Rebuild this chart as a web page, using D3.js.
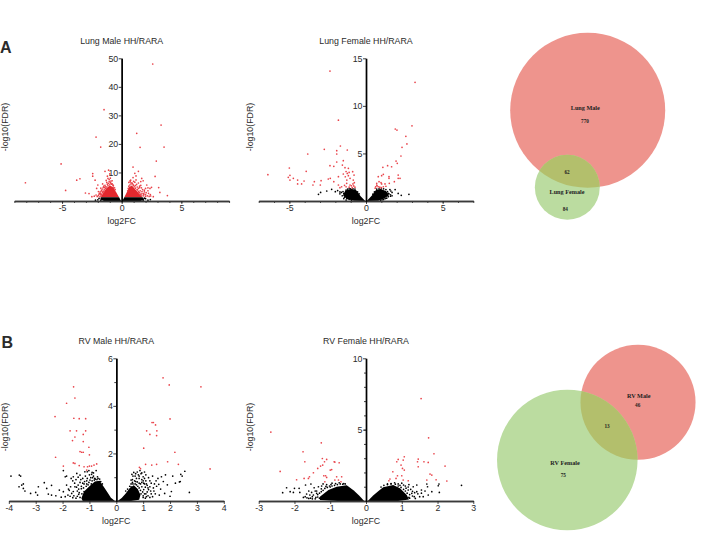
<!DOCTYPE html>
<html>
<head>
<meta charset="utf-8">
<script src="https://cdnjs.cloudflare.com/ajax/libs/d3/7.8.5/d3.min.js"></script>
<style>
  html, body { margin: 0; padding: 0; background: #fff; }
  svg { display: block; }
  text { font-family: "Liberation Sans", Arial, sans-serif; fill: #2b2b2b; }
  .venn text { font-family: "Liberation Serif", "Times New Roman", serif; font-weight: bold; fill: #222; }
</style>
</head>
<body>
<div id="chart"></div>
<script>
// [log2FC, -log10(FDR)]
var lungMalePoints = [[2.6,48],[3.3,26.6],[-1.48,32],[-2.15,22.4],[1.26,23.7],[-1.76,18.9],[1.54,18.8],[3.55,18.9],[-5.08,13],[2.9,14],[-8.07,6.4],[-4.7,3.7],[-3.77,7.3],[-3.5,7.8],[-2.43,9.6],[-2.43,8.7],[-3.04,2.8],[-2.74,2.6],[.95,11.9],[1.4,10.4],[2.8,8.6],[3.1,4.7],[3.2,3],[3.83,1.9],[2.43,1.75],[2.65,1.5],[-1.4,10.4],[-1.1,10.8],[-1,9.5],[-1.2,8.7],[1.1,9.7],[1.2,8.8],[.7,7.1],[1.68,7.9],[1.8,7.1],[2.1,5.6],[2.37,4.4],[2.5,4.8],[-2.23,7.3],[-2,5.6],[-2.1,4.4],[-1.95,3.3],[-1.8,2.7],
  [-.9,7],[-1.05,7.5],[-1.25,6.5],[-1.4,5.5],[-1.55,4.8],[-1.7,3.8],[-1.85,2.7],[-1.3,7.2],[-.8,6],[-.7,5.5],[-1.1,6.2],[-1.6,6],[-1.5,3.2],[-1.75,2.2],[-.95,8],[.6,6.5],[.75,7.3],[.9,6.1],[1,5.5],[1.1,6.6],[1.25,5.8],[1.4,6.3],[1.5,4.7],[1.6,5.5],[1.75,4],[1.9,3.2],[2,2.2],[1.7,2.6],[1.3,4],[1.45,3],[2.2,3.6],[2.4,2.2],[1.6,6.8],[1.2,7.4],[.95,8.2],
  [-2,.4],[-1.9,.9],[-2.2,.3],[2,.8],[2.2,.3],[1.9,1],[2.4,.5],[1.8,.3],[-1.75,.2],
  [-.6,4.6],[-.75,5.6],[-.85,5.9],[-1,5.7],[-1.15,5.4],[-1.25,4.9],[-1.35,4.4],[-1.45,3.9],[-1.55,3.5],[-1.6,2.9],[-1.68,2.4],[-1.72,1.8],[-1.82,1.5],[-1.95,1.9],[-2.05,1.6],[-.95,6.5],[-1.2,5.9],[-1.45,4.7],[-1.65,3.3],[-1.35,5],[-.7,4.9],[-.9,6.2],[-1.05,6.8],[-1.6,4.2],[-1.8,3.2],[-1.9,2.4],[-2.15,2.1],[-2.3,1.7],[-2.5,1.5],[-1.5,5.2],[-1.75,4.5],[-.55,4],[-1.15,7.9],[-.8,7.1],
  [.55,4.4],[.68,5.6],[.78,6],[.95,5.7],[1.05,5],[1.15,4.5],[1.3,3.9],[1.4,3.4],[1.5,2.9],[1.55,2.4],[1.65,2.1],[1.8,1.8],[1.85,2.6],[.85,6.4],[1.15,5.4],[1.3,4.9],[1.4,4.4],[1.55,3.6],[1.7,3.3],[1.85,2.2],[2,1.6],[2.15,1.8],[2.25,2.7],[2.3,1.6],[.72,6.7],[1,6.9],[1.5,5.2],[1.65,4.6],[1.9,3.8],[2,4.4],[2.2,4.6],[2.05,2.9],[.5,3.6],[.6,5.2]];
var lungMaleCores = [
  [[-.22,1.3],[-.45,3],[-.7,4.8],[-1,5.4],[-1.3,4.4],[-1.55,2.8],[-1.75,1.3]],
  [[.22,1.3],[.42,3],[.6,4.8],[.85,5.4],[1.15,4],[1.45,2.6],[1.75,1.3]],
  [[-.05,0],[-.22,1.3],[-1.75,1.3],[-1.8,.5],[-1.5,0]],
  [[.05,0],[.22,1.3],[1.75,1.3],[1.9,.5],[1.6,0]]];

var lungFemalePoints = [[-2.35,13.66],[3.2,12.47],[-1.8,8.5],[3,7.9],[1.91,7.57],[2.02,7.46],[2.6,6.8],[2.67,6],[2.35,5.64],[-1.67,5.78],[-2.72,5.43],[-1.91,5.29],[-1.22,5.36],[-1.91,4.94],[-3.8,4.94],[2.28,4.73],[-1.48,4.24],[1.96,4.2],[2.04,3.96],[-1.91,4.1],[-2.35,3.71],[-2.1,3.64],[-1.54,3.78],[1.41,3.71],[1.67,3.6],[1.1,3.54],[-5,3.47],[-3.9,3.12],[-1.37,3.5],[-1.15,3.43],[-6.4,2.77],[-4.96,2.7],[-5.07,2.49],[-4.74,2.38],[-4.96,2.2],[-4.46,2.2],[-4.46,1.79],[-4.2,1.79],[-4.04,2.1],[-3.37,2.03],[-3.46,1.68],[-2.93,2.14],[-2.98,1.68],[-2.46,2.31],[-2.33,2.38],[-2.1,2.03],[-1.8,2.56],[-1.48,2.84],[-1.22,2.9],[-1.15,2.66],[-.87,3.08],[-.78,2.73],[-.83,2.2],[-.76,1.93],[-1.04,2.38],[-1.8,1.68],[-1.59,1.5],[-1.26,1.86],[-1.04,1.68],[-.8,1.58],
  [1.13,2.8],[1.02,2.66],[.8,2.56],[1.5,2.56],[1.5,2.38],[2.1,2.73],[2.1,2.38],[2.22,2.38],[.7,1.86],[1.02,1.79],[1.24,1.79],[1.52,1.86],[.85,2.03],[.63,1.5],[.8,1.5],[1.13,1.5],[.98,1.93],[1.85,2.03],[.7,1.68],
  [-3.1,.7],[-2.96,.9],[-2.56,1.05],[-2.24,1.23],[-2,.98],[-1.85,1.1],[-1.7,.95],[2.8,.7],[2.1,.8],[1.9,1.2],[1.56,1.2],[2.3,.6],[1.7,.9],[1.6,.5],[1.45,.8],
  [-1.5,1],[-1.45,.8],[-1.6,.9],[-1.7,.75],[-1.55,.55],[-1.4,.4],[-1.3,1.15],[-1.2,1.25],[-1.1,1.28],[-1,1.28],[-.85,1.29],[-.72,1.25],[-.55,.95],[-.45,.75],[-1.25,.25],[-1.1,.18],[-1.3,.1],[-1.45,.25],[-.95,.05],
  [1.4,1],[1.5,.75],[1.6,.65],[1.45,.45],[1.35,.3],[1.25,.25],[1.15,.15],[1.3,1.2],[1.15,1.28],[1,1.29],[.85,1.28],[.7,1.25],[.55,.95],[.45,.72],[1.7,.55],[1.35,.85],[1.62,1.05],[.95,.08],[1.05,.12],
  [-1.3,1.5],[-1.1,1.45],[-.95,1.6],[-.85,1.8],[-1.4,1.65],[-1.7,1.4],[-.72,1.45],[-.9,1.4],[-1.25,2.2],[-1.35,2.55],[-1.1,3],[-1.3,3.1],[.9,1.45],[1,1.4],[.72,1.6],[1.3,1.55],[.6,1.35]];
var lungFemaleCores = [
  [[-.05,0],[-.35,.5],[-.65,1.15],[-.95,1.25],[-1.35,1.1],[-1.5,.6],[-1.25,.2],[-.8,.03]],
  [[.05,0],[.4,.6],[.65,1.15],[.95,1.25],[1.3,1.05],[1.5,.6],[1.2,.25],[.8,.03]]];

var rvMalePoints = [[1.74,5.18],[1.97,4.88],[3.15,4.8],[-1.59,4.8],[-1.54,4.33],[-1.85,4.11],[-2.28,3.55],[-1.58,3.48],[-1.38,3.46],[-1.14,3.46],[2,3.45],[1.33,3.3],[1.38,3.3],[1.46,3.2],[-1.72,2.95],[-1.48,2.95],[-1.14,2.95],[1.13,2.95],[1.51,2.95],[-1.23,2.8],[1.25,2.8],[1.5,2.75],[-1.54,2.69],[-1.63,2.54],[-1.23,2.5],[-1.02,2.26],[1.02,2.22],[-1.35,2.08],[-1.29,2.05],[-1.23,2.05],[-1,1.94],[2.18,2.05],[-2.26,1.84],[1.91,1.65],[-1.6,1.6],[-1.54,1.58],[-1.38,1.49],[-1.97,1.47],[-1.2,1.44],[-1.07,1.44],[-1,1.47],[-.92,1.47],[-.83,1.51],[-.73,1.56],[1.09,1.54],[1.32,1.51],[1.5,1.54],[2.31,1.54],[.86,1.42],[.9,1.36],[3.49,1.35],[-1.1,1.3],
  [-3.92,1.05],[-3.61,1.09],[-3.56,1.05],[-3.62,.6],[-3.52,.67],[-3.46,.72],[-3.46,.53],[-3.4,.42],[-3.19,.32],[-3,.36],[-2.93,.25],[-2.9,.6],[-2.68,.77],[-2.59,.53],[-2.41,.66],[-2.53,.29],[-2.41,.25],[-2.25,.22],[-2.12,.46],[-1.97,.39],[-1.85,.67],[-1.9,1.02],[-1.85,1.05],[-1.97,1.28],[-1.6,1.02],[-1.47,1.16],[-1.35,1.09],[-1.17,1.23],[-1.08,1.23],[-1.8,.25],[-1.66,.32],[-1.54,.6],[-1.42,.67],
  [-2.05,.16],[-1.9,.18],[-1.75,.45],[-1.62,.85],[-1.5,.9],[-1.45,.42],[-1.4,.28],[-1.35,.78],[-1.3,.52],[-1.25,.95],[-1.2,.72],[-1.15,1.05],[-1.1,.85],[-1.05,.68],[-1,1.1],[-.95,.98],[-.9,1.2],[-.85,1.05],[-.8,.95],[-.75,1.28],[-.7,1.02],[-1.2,.4],[-1.15,.22],[-1.5,.12],[-1.62,.14],
  [.55,.72],[.6,.9],[.65,1.2],[.7,1.05],[.72,.82],[.78,1.22],[.82,1.1],[.85,.95],[.88,1.28],[.92,1.15],[.95,.9],[1,1.02],[1.05,1.22],[1.02,.75],[1.1,.85],[1.08,.58],[1.15,.66],[1.2,.48],[1.2,.98],[1.28,.42],[1.3,.75],[1.35,1.05],[1.38,.55],[1.45,.3],[1.5,.62],[1.55,.95],[1.6,.25],[1.65,.5],[1.68,1.02],[1.75,.82],[1.8,.32],[1.83,1.1],[1.9,.68],[2,.2],[2.05,.4],[2.1,1.05],[2.2,.75],[2.35,.8],[2.38,.82],[2.4,1.12],[2.45,1.05],[2.55,1.25],[2.72,.36],[1.25,.15],[1.1,.3],[1,.15],
  [-1.4,.5],[-1.45,.2],[-1.38,.35],[-1.35,.15],[-1.3,.62],[-1.28,.3],[-1.25,.75],[-1.22,.55],[-1.18,.82],[-1.12,.62],[-1.1,.72],[-1.08,.95],[-1.02,.78],[-.98,.88],[-.93,.72],[-.9,.85],[-.88,.98],[-.82,.88],[-.78,.92],[-.72,.9],[-.68,.95],[-.62,.92],[-.58,.82],[-.52,.72],[-.92,1.12],[-.85,1.18],[-1.02,1.28],[-1.32,.9],[-1.42,1],[-1.55,.75],[-1.6,.4],[-1.7,.6],[-1.72,.2],[-1.48,.58],[-1.58,.22],[-1.78,.5],[-1.68,.95],
  [.35,.42],[.42,.5],[.5,.62],[.55,.6],[.62,.72],[.7,.72],[.75,.68],[.8,.62],[.85,.55],[.9,.45],[.92,.3],[.95,.6],[.98,.38],[1,.22],[1.02,.48],[1.05,.3],[1.08,.12],[1.12,.18],[1.15,.38],[1.18,.22],[.68,.85],[.75,.95],[.6,.78],[.78,.8],[.85,.75],[.9,.72],[.95,.78],[1,.85],[1.05,.95],[1.1,1.1],[1.12,.72],[1.25,.6],[1.3,.3],[1.35,.18],[1.4,.42],[1.42,.72],[1.48,.85],[1.58,.7],[.58,1.12],[.62,1.05],[.72,1.15],[.85,1.05],[.95,1.18],[.55,.88],[1.25,.85],[1.18,.55],[1.05,.72]];
var rvMaleCores = [
  [[-.05,0],[-.2,.14],[-.35,.4],[-.5,.65],[-.62,.85],[-.8,.82],[-1,.62],[-1.2,.4],[-1.3,.12],[-1.25,0]],
  [[.05,0],[.2,.13],[.35,.32],[.5,.55],[.65,.66],[.8,.5],[.9,.25],[.85,.05],[.55,0]]];

var rvFemalePoints = [[1.54,7.18],[-2.66,4.83],[1.75,4.43],[-1.25,4.08],[-1.76,3.45],[1.9,3.31],[1.07,3.1],[-1.22,2.98],[-1.1,2.91],[.9,2.91],[1.46,2.94],[-1.71,2.75],[-1.16,2.75],[-.89,2.75],[-.87,2.73],[-.75,2.68],[.86,2.75],[1.04,2.87],[1.44,2.75],[1.62,2.75],[1.74,2.7],[-1.27,2.45],[-1.21,2.52],[-1.35,2.28],[1.46,2.4],[2.21,2.45],[.98,2.52],[1.02,2.28],[1.07,2.17],[-2.4,2.07],[-1.47,1.98],[-1,2.17],[-.96,2.2],[1.79,1.89],[1.84,1.82],[-1.58,1.7],[-1.18,1.77],[-1.13,1.77],[-1.1,1.65],[-1.61,1.58],[-1.73,1.58],[-1.94,1.49],[-.82,1.7],[-.68,1.7],[-.87,1.47],[-.77,1.47],[-.7,1.35],[.88,1.77],[.84,1.58],[1,1.77],[1.04,1.47],[1.18,1.42],[.67,1.54],[.64,1.42],[.75,2.05],[1.96,1.49],[2.26,1.4],[1.7,1.47],[-1.15,1.35],
  [2.67,1.1],[2.04,1.19],[2.02,1.07],[1.7,1.19],[1.72,1],[2.05,.6],[1.84,.65],[1.74,.42],[1.55,.77],[1.42,1.12],[1.32,1],[1.28,.54],[1.18,.77],[1.45,.5],[1.35,.3],[1.2,1.15],[1.1,1.05],[1,1.25],[.9,1.2],[.7,1.22],[.6,1.2],[1.1,.4],[1.2,.25],
  [-2.33,.58],[-2.22,.93],[-2.12,.65],[-2,.89],[-2.03,.6],[-1.87,.89],[-1.85,.6],[-1.69,1.12],[-1.54,1.19],[-1.66,.49],[-1.57,.42],[-1.47,.42],[-1.38,.54],[-1.33,1],[-1.45,.93],[-1.24,1.05],[-1.6,.7],[-1.42,.7],[-1.5,.3],[-1.35,.28],[-1.3,.2],[-1.2,1.2],[-1.1,1.15],[-1.02,1.05],[-.95,1.25],[-.85,1.22],[-.75,1.28],[-.62,1.22],
  [-1.35,.45],[-1.4,.25],[-1.42,.15],[-1.3,.55],[-1.25,.65],[-1.2,.75],[-1.15,.88],[-1.08,.95],[-1,.98],[-.95,1.05],[-.88,1.1],[-.8,1.15],[-.72,1.2],[-.65,1.18],[-.58,1.2],[-1.5,.15],[-1.55,.2],[-1.6,.18],[-1.65,.22],[-1.7,.3],[-1.75,.25],[-1.12,1.02],[-.98,1.15],[-1.25,.85],[-1.38,.7],[-1.52,.6],
  [.42,.98],[.5,1.1],[.6,1.15],[.7,1.2],[.82,1.18],[.9,1.05],[.98,.95],[1.05,.82],[1.1,.7],[1.15,.55],[1.22,.45],[1.22,.2],[1.3,.35],[1.38,.18],[1.12,.9],[1.18,.98],[1.25,.82],[1.3,.68],[1.36,.58],[1.42,.65],[1.5,.3],[1.55,.55],[.95,1.1],[.8,1.28],[1.05,1.12],[1.6,.3],[1.65,.7]];
var rvFemaleCores = [
  [[-.05,0],[-.2,.4],[-.35,.75],[-.54,1.1],[-.82,1],[-1.05,.77],[-1.29,.3],[-1.29,.07],[-.8,0]],
  [[.05,0],[.2,.38],[.35,.7],[.48,.96],[.76,1.12],[.95,.89],[1.14,.42],[1.2,.1],[.9,0]]];

var xTicksLung = [-5, 0, 5], xTicksRvMale = [-4, -3, -2, -1, 0, 1, 2, 3, 4], xTicksRvFemale = [-3, -2, -1, 0, 1, 2, 3];
var fdrCut = 1.3;

// venn counts: only left, overlap, only right
var lungVennCounts = [770, 62, 84], lungVennNames = ["Lung Male", "Lung Female"];
var rvVennCounts = [46, 13, 75], rvVennNames = ["RV Male", "RV Female"];

var svg = d3.select("#chart").append("svg").attr("width", 707).attr("height", 543);
var redDot = "#e9434a", blackDot = "#000";

function volcano(title, pts, cores, xMax, yMax, xTicks, yTicks, xMinor, yMinor, x0, y0, pxX, yLabelX) {
  var x = d3.scaleLinear().domain([-xMax, xMax]).range([x0 - xMax * pxX, x0 + xMax * pxX]);
  var y = d3.scaleLinear().domain([0, yMax]).range([y0, y0 - 142.7]);
  var g = svg.append("g");
  var line = d3.line().x(function(d) { return x(d[0]); }).y(function(d) { return y(d[1]); }).curve(d3.curveLinearClosed);

  g.selectAll("path.core").data(cores).enter().append("path").attr("class", "core")
    .attr("d", line)
    .attr("fill", function(d) { return d3.max(d, function(p) { return p[1]; }) > 2 ? "#e2282e" : blackDot; })
    .attr("stroke", "none");

  g.selectAll("circle").data(pts).enter().append("circle")
    .attr("cx", function(d) { return x(d[0]); })
    .attr("cy", function(d) { return y(d[1]); })
    .attr("r", 0.85)
    .attr("fill", function(d) { return d[1] >= fdrCut ? redDot : blackDot; });

  var xa = g.append("g").attr("transform", "translate(0," + y0 + ")");
  xa.call(d3.axisBottom(x).tickValues(xMinor).tickSize(2).tickSizeOuter(0).tickFormat(""));
  xa.append("g").call(d3.axisBottom(x).tickValues(xTicks).tickSize(3).tickSizeOuter(0).tickFormat(function(d) { return d; }));
  xa.selectAll("path.domain").attr("stroke", "#3a3a3a").attr("stroke-width", 1.5);
  xa.selectAll("line").attr("stroke", "#222").attr("stroke-width", 0.8);
  xa.selectAll("text").attr("font-size", 8.8).attr("y", 4).attr("dy", "0.7em").attr("fill", "#2b2b2b").attr("font-family", "Liberation Sans");

  var ya = g.append("g").attr("transform", "translate(" + x0 + ",0)");
  ya.call(d3.axisLeft(y).tickValues(yMinor).tickSize(2).tickSizeOuter(0).tickFormat(""));
  ya.append("g").call(d3.axisLeft(y).tickValues(yTicks).tickSize(3).tickSizeOuter(0).tickFormat(function(d) { return d; }));
  ya.selectAll("path.domain").attr("stroke", "#000").attr("stroke-width", 1.4);
  ya.selectAll("line").attr("stroke", "#111").attr("stroke-width", 0.8);
  ya.selectAll("text").attr("font-size", 8.8).attr("x", -3.5).attr("fill", "#2b2b2b").attr("font-family", "Liberation Sans");

  g.append("text").attr("x", x0).attr("y", y0 - 159).attr("text-anchor", "middle").attr("dominant-baseline", "middle")
    .attr("font-size", 8.8).text(title);
  g.append("text").attr("x", x0).attr("y", y0 + 20.5).attr("text-anchor", "middle").attr("dominant-baseline", "middle")
    .attr("font-size", 8.8).text("log2FC");
  g.append("text").attr("transform", "translate(" + yLabelX + "," + (y0 - 74) + ") rotate(-90)")
    .attr("text-anchor", "middle").attr("dominant-baseline", "middle").attr("font-size", 8.8).text("-log10(FDR)");
}

volcano("Lung Male HH/RARA", lungMalePoints, lungMaleCores, 9, 50, xTicksLung, [10, 20, 30, 40, 50], d3.range(-9, 10), [],
  121.7, 201, 11.93, 6);
volcano("Lung Female HH/RARA", lungFemalePoints, lungFemaleCores, 7, 15, xTicksLung, [5, 10, 15], d3.range(-7, 8), [],
  366, 201, 15.33, 251);
volcano("RV Male HH/RARA", rvMalePoints, rvMaleCores, 4, 6, xTicksRvMale, [2, 4, 6], [], [1, 3, 5],
  116.3, 501, 26.87, 6);
volcano("RV Female HH/RARA", rvFemalePoints, rvFemaleCores, 3, 10, xTicksRvFemale, [5, 10], [], d3.range(1, 10),
  366, 501, 35.77, 251);

function venn(id, counts, names, k, c1, c2, labels) {
  var r = d3.scaleSqrt().domain([0, 1]).range([0, k]);
  var r1 = r(counts[0] + counts[1]), r2 = r(counts[1] + counts[2]);
  var g = svg.append("g").attr("class", "venn");
  g.append("circle").attr("cx", c1[0]).attr("cy", c1[1]).attr("r", r1).attr("fill", "#ee948d");
  g.append("circle").attr("cx", c2[0]).attr("cy", c2[1]).attr("r", r2).attr("fill", "#bbdca0");
  g.append("clipPath").attr("id", id).append("circle").attr("cx", c1[0]).attr("cy", c1[1]).attr("r", r1);
  g.append("circle").attr("cx", c2[0]).attr("cy", c2[1]).attr("r", r2).attr("fill", "#b3bf6c").attr("clip-path", "url(#" + id + ")");
  var texts = [names[0], counts[0], counts[1], names[1], counts[2]];
  g.selectAll("text").data(texts).enter().append("text")
    .attr("x", function(d, i) { return labels[i][0]; })
    .attr("y", function(d, i) { return labels[i][1]; })
    .attr("text-anchor", "middle").attr("dominant-baseline", "middle")
    .attr("font-size", function(d, i) { return i == 0 || i == 3 ? 6.2 : 5.2; })
    .text(function(d) { return d; });
}

venn("clipLung", lungVennCounts, lungVennNames, 2.687, [587.7, 110.3], [567.3, 187.3],
  [[585.3, 108.7], [585, 122], [567, 173], [567, 193], [565.3, 210]]);
venn("clipRv", rvVennCounts, rvVennNames, 7.49, [638, 402.3], [567.3, 460],
  [[638.7, 396.7], [637.7, 406], [607, 427], [565, 464], [563.3, 475.7]]);

svg.append("text").attr("x", 0).attr("y", 53).attr("font-size", 16).attr("font-weight", "bold").attr("fill", "#000").text("A");
svg.append("text").attr("x", 1.5).attr("y", 347.5).attr("font-size", 16).attr("font-weight", "bold").attr("fill", "#000").text("B");
</script>
</body>
</html>
